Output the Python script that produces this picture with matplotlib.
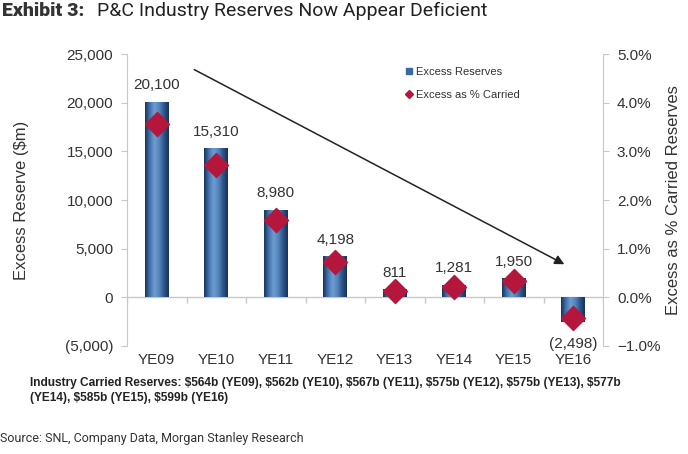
import numpy as np
import matplotlib
matplotlib.use("Agg")
import matplotlib.pyplot as plt
from matplotlib.colors import LinearSegmentedColormap
from matplotlib.ticker import FuncFormatter, PercentFormatter
from matplotlib.lines import Line2D

years = ["YE09", "YE10", "YE11", "YE12", "YE13", "YE14", "YE15", "YE16"]
excess_reserves = [20100, 15310, 8980, 4198, 811, 1281, 1950, -2498]
excess_pct = [3.56, 2.72, 1.58, 0.73, 0.14, 0.22, 0.33, -0.42]
carried_note = (r"Industry Carried Reserves: \$564b (YE09), \$562b (YE10), \$567b (YE11), "
                r"\$575b (YE12), \$575b (YE13), \$577b" "\n"
                r"(YE14), \$585b (YE15), \$599b (YE16)")

plt.rcParams['font.family'] = ['Liberation Sans', 'DejaVu Sans']
grey_txt = '#333333'
spine_col = '#c8c8c8'

fig = plt.figure(figsize=(6.88, 4.54), dpi=100)
ax = fig.add_axes([0.1846, 0.2379, 0.8765 - 0.1846, 0.881 - 0.2379])
ax2 = ax.twinx()

x = np.arange(len(years))
w = 0.40

# cylinder-like shading for bars
cyl = LinearSegmentedColormap.from_list(
    "cyl", ["#17355a", "#4473ad", "#6e9dd2", "#5584bc", "#2d5689", "#17325a"])
grad = np.linspace(0, 1, 64).reshape(1, -1)
bars = ax.bar(x, excess_reserves, width=w, color='none', edgecolor='none', zorder=2)
for b in bars:
    x0, y0 = b.get_x(), b.get_y()
    bw, bh = b.get_width(), b.get_height()
    im = ax.imshow(grad, cmap=cyl, aspect='auto', zorder=2,
                   extent=[x0, x0 + bw, y0, y0 + bh], interpolation='bicubic')
    im.set_clip_path(b)

for xi, v in zip(x, excess_reserves):
    if v >= 0:
        ax.annotate(f"{v:,}", (xi, v), xytext=(0, 7), textcoords='offset points',
                    ha='center', va='bottom', fontsize=11, color=grey_txt)
    else:
        ax.annotate(f"({-v:,})", (xi, v), xytext=(0, -11), textcoords='offset points',
                    ha='center', va='top', fontsize=11, color=grey_txt)

ax.set_xlim(-0.5, len(years) - 0.5)
ax.set_ylim(-5000, 25000)
ax.set_yticks(np.arange(-5000, 25001, 5000))
ax.yaxis.set_major_formatter(FuncFormatter(
    lambda v, p: f"({-v:,.0f})" if v < 0 else f"{v:,.0f}"))
ax.set_xticks(x)
ax.set_xticklabels(years)
ax.tick_params(axis='x', length=0, pad=5, labelsize=11, labelcolor=grey_txt)
ax.tick_params(axis='y', length=4, color=spine_col, labelsize=11, labelcolor=grey_txt, pad=6)
for s in ['top', 'right', 'bottom']:
    ax.spines[s].set_visible(False)
ax.spines['left'].set_color(spine_col)

# zero line with category separators
ax.axhline(0, color=spine_col, lw=1, zorder=1)
ax.vlines(np.arange(-0.5, len(years)), 0, -600, color=spine_col, lw=1, zorder=1)

ax.set_ylabel(r"Excess Reserve (\$m)", fontsize=12, color=grey_txt, labelpad=26)

ax2.scatter(x, excess_pct, marker='D', s=150, color='#b5163b', zorder=3)
ax2.set_ylim(-1, 5)
ax2.set_yticks(np.arange(-1, 5.01, 1))
ax2.yaxis.set_major_formatter(PercentFormatter(decimals=1))
ax2.tick_params(axis='y', length=4, color=spine_col, labelsize=11, labelcolor=grey_txt, pad=6)
for s in ['top', 'left', 'bottom']:
    ax2.spines[s].set_visible(False)
ax2.spines['right'].set_color(spine_col)
ax2.set_ylabel("Excess as % Carried Reserves", fontsize=12, color=grey_txt, labelpad=4)

# trend arrow
ax.annotate("", xy=(6.85, 3400), xytext=(0.63, 23400),
            arrowprops=dict(arrowstyle='-|>', color='#222222', lw=1.1,
                            mutation_scale=14, shrinkA=0, shrinkB=0), zorder=4)

handles = [Line2D([], [], marker='s', ls='none', color='#3a6aa4', markersize=4.5),
           Line2D([], [], marker='D', ls='none', color='#b5163b', markersize=4.5)]
ax.legend(handles, ["Excess Reserves", "Excess as % Carried"], loc='upper left',
          bbox_to_anchor=(0.56, 0.99), frameon=False, fontsize=8, labelspacing=1.2,
          handletextpad=0.1, handlelength=1.0, labelcolor=grey_txt)

fig.text(0.003, 0.976, "Exhibit 3:", fontsize=14, fontweight='black',
         family=['Roboto', 'DejaVu Sans'], color='#333333', va='center')
fig.text(0.141, 0.976, "P&C Industry Reserves Now Appear Deficient", fontsize=14,
         family=['Roboto', 'DejaVu Sans'], color='#222222', va='center')
fig.text(0.044, 0.14, carried_note, fontsize=8.6, fontweight='bold', color='#222222',
         va='center', linespacing=1.3)
fig.text(0.0, 0.035, "Source: SNL, Company Data, Morgan Stanley Research", fontsize=9,
         family=['Roboto', 'DejaVu Sans'], color='#333333', va='center')

fig.savefig("out.png", dpi=100, facecolor='white')
